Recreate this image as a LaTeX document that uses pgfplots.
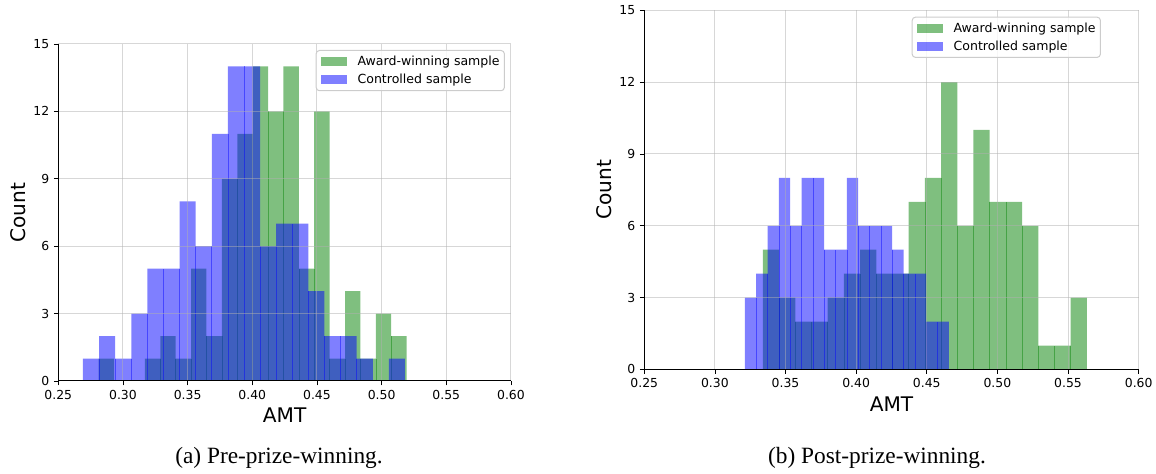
\documentclass[border=0pt]{standalone}
\usepackage{fontspec}
\setmainfont{DejaVu Sans}
\newfontfamily\capfont{Liberation Serif}
\usepackage{pgfplots}
\pgfplotsset{compat=1.18}
\definecolor{mplgreen}{RGB}{0,128,0}
\definecolor{mplblue}{RGB}{0,0,255}
\definecolor{gridc}{RGB}{176,176,176}
\definecolor{legedge}{RGB}{204,204,204}

\pgfplotsset{
  hstyle/.style={
    scale only axis,
    axis lines*=left,
    xmin=0.25, xmax=0.60, ymin=0, ymax=15,
    xtick={0.25,0.30,0.35,0.40,0.45,0.50,0.55,0.60},
    xticklabels={0.25,0.30,0.35,0.40,0.45,0.50,0.55,0.60},
    ytick={0,3,6,9,12,15},
    yticklabels={0,3,6,9,12,15},
    tick align=outside,
    major tick length=3.3pt,
    tick style={black, line width=0.6pt},
    grid=major,
    major grid style={gridc, opacity=0.5, line width=0.75pt},
    axis on top,
    axis line style={black, line width=0.75pt},
    ticklabel style={font=\fontsize{9.3}{11}\selectfont},
    label style={font=\fontsize{15.1}{18}\selectfont},
    xlabel={AMT}, ylabel={Count},
    legend cell align=left,
    legend style={
      anchor=north west,
      draw=legedge, line width=0.75pt, rounded corners=2.5pt,
      fill=white, fill opacity=0.8, text opacity=1,
      font=\fontsize{9.4}{11}\selectfont,
      inner xsep=3.6pt, inner ysep=4pt,
      row sep=4.9pt, column sep=8pt,
      nodes={inner sep=0pt},
    },
  },
  hbar/.style={ybar interval, fill=#1, fill opacity=0.5, draw=none,
    legend image code/.code={\fill[##1, sharp corners] (0pt,-3.4pt) rectangle (19.5pt,3.4pt);}},
  seam/.style={ycomb, draw=#1, draw opacity=0.45, line width=0.5pt, no markers, forget plot},
}

\begin{document}
\begin{tikzpicture}
\useasboundingbox (0pt,0pt) rectangle (867pt,355.5pt);

% ---------------- (a) Pre-prize-winning ----------------
\begin{axis}[hstyle,
  width=339.5pt, height=252.75pt,
  at={(43.7pt,69.75pt)}, anchor=south west,
  xlabel style={at={(axis description cs:0.5,-0.1246)}, anchor=base},
  ylabel style={at={(axis description cs:-0.0729,0.5)}, anchor=base},
  legend style={at={(0.5686,0.9822)}},
]
\addplot[hbar=mplgreen] coordinates {
(0.28124,1) (0.29315,0) (0.30505,0) (0.31696,1) (0.32886,2) (0.34077,1)
(0.35268,5) (0.36458,2) (0.37649,9) (0.38839,11) (0.40030,14) (0.41221,12)
(0.42411,14) (0.43602,5) (0.44792,12) (0.45983,1) (0.47174,4) (0.48364,1)
(0.49555,3) (0.50745,2) (0.51936,0)};
\addplot[seam=mplgreen] coordinates {
(0.32886,1) (0.34077,1) (0.35268,1) (0.36458,2) (0.37649,2) (0.38839,9)
(0.40030,11) (0.41221,12) (0.42411,12) (0.43602,5) (0.44792,5) (0.45983,1)
(0.47174,1) (0.48364,1) (0.49555,1) (0.50745,2)};
\addplot[hbar=mplblue] coordinates {
(0.26910,1) (0.28155,2) (0.29400,1) (0.30644,3) (0.31889,5) (0.33134,5)
(0.34379,8) (0.35624,6) (0.36868,11) (0.38113,14) (0.39358,14) (0.40603,6)
(0.41848,7) (0.43092,7) (0.44337,4) (0.45582,2) (0.46827,2) (0.48072,1)
(0.49316,0) (0.50561,1) (0.51806,0)};
\addplot[seam=mplblue] coordinates {
(0.28155,1) (0.29400,1) (0.30644,1) (0.31889,3) (0.33134,5) (0.34379,5)
(0.35624,6) (0.36868,6) (0.38113,11) (0.39358,14) (0.40603,6) (0.41848,6)
(0.43092,7) (0.44337,4) (0.45582,2) (0.46827,2) (0.48072,1)};
\legend{Award-winning sample, Controlled sample}
\end{axis}

% ---------------- (b) Post-prize-winning ----------------
\begin{axis}[hstyle,
  width=370.8pt, height=269.4pt,
  at={(483.2pt,78.4pt)}, anchor=south west,
  xlabel style={at={(axis description cs:0.5,-0.1169)}, anchor=base},
  ylabel style={at={(axis description cs:-0.0667,0.5)}, anchor=base},
  legend style={at={(0.5409,0.9822)}},
]
\addplot[hbar=mplgreen] coordinates {
(0.33400,5) (0.34547,3) (0.35693,2) (0.36840,2) (0.37986,3) (0.39133,4)
(0.40279,5) (0.41426,4) (0.42572,4) (0.43719,7) (0.44865,8) (0.46012,12)
(0.47158,6) (0.48305,10) (0.49451,7) (0.50598,7) (0.51744,6) (0.52891,1)
(0.54037,1) (0.55184,3) (0.56330,0)};
\addplot[seam=mplgreen] coordinates {
(0.34547,3) (0.35693,2) (0.36840,2) (0.37986,2) (0.39133,3) (0.40279,4)
(0.41426,4) (0.42572,4) (0.43719,4) (0.44865,7) (0.46012,8) (0.47158,6)
(0.48305,6) (0.49451,7) (0.50598,7) (0.51744,6) (0.52891,1) (0.54037,1)
(0.55184,1)};
\addplot[hbar=mplblue] coordinates {
(0.32125,3) (0.32927,4) (0.33729,6) (0.34531,8) (0.35333,6) (0.36135,8)
(0.36937,8) (0.37739,5) (0.38541,5) (0.39342,8) (0.40144,6) (0.40946,6)
(0.41748,6) (0.42550,5) (0.43352,4) (0.44154,4) (0.44956,2) (0.45758,2)
(0.46560,0)};
\addplot[seam=mplblue] coordinates {
(0.32927,3) (0.33729,4) (0.34531,6) (0.35333,6) (0.36135,6) (0.36937,8)
(0.37739,5) (0.38541,5) (0.39342,5) (0.40144,6) (0.40946,6) (0.41748,6)
(0.42550,5) (0.43352,4) (0.44154,4) (0.44956,2) (0.45758,2)};
\legend{Award-winning sample, Controlled sample}
\end{axis}

\node[anchor=base, font=\capfont\fontsize{17.5}{21}\selectfont] at (209.25pt,7.7pt) {(a) Pre-prize-winning.};
\node[anchor=base, font=\capfont\fontsize{17.5}{21}\selectfont] at (657.75pt,7.7pt) {(b) Post-prize-winning.};
\end{tikzpicture}
\end{document}
